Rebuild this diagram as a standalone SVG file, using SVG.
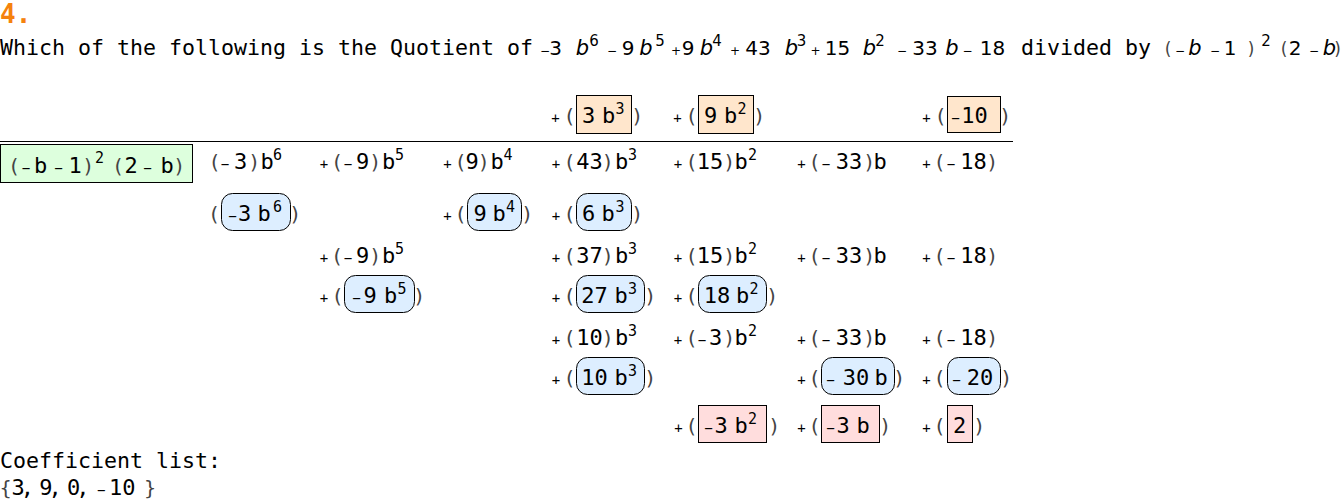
<svg xmlns="http://www.w3.org/2000/svg" width="1341" height="502" viewBox="0 0 1341 502">
<style>
.t{font-family:"DejaVu Sans Mono",monospace;font-size:21.6px;fill:#000}
.ttl{font-family:"DejaVu Sans Mono",monospace;font-size:26px;font-weight:bold;fill:#f5820d}
.n{font-family:"DejaVu Sans Mono",monospace;font-size:22px;text-anchor:middle;fill:#000}
.ns{font-family:"DejaVu Sans Mono",monospace;font-size:22px;fill:#000}
.o{font-family:"DejaVu Sans Mono",monospace;font-size:14px;text-anchor:middle;fill:#000}
.os{font-family:"DejaVu Sans Mono",monospace;font-size:14px}
.p{font-family:"DejaVu Sans",sans-serif;font-size:20px;text-anchor:middle;fill:#444}
.u{font-family:"DejaVu Sans Mono",monospace;font-size:15px;text-anchor:middle;fill:#000}
.h{font-family:"DejaVu Sans",sans-serif;font-size:20px;text-anchor:middle;fill:#000}
.hi{font-family:"DejaVu Sans",sans-serif;font-size:21px;font-style:italic;text-anchor:middle;fill:#000}
.hs{font-family:"DejaVu Sans",sans-serif;font-size:12px;text-anchor:middle;fill:#000}
.hu{font-family:"DejaVu Sans",sans-serif;font-size:15px;text-anchor:middle;fill:#000}
.hp{font-family:"DejaVu Sans",sans-serif;font-size:17px;text-anchor:middle;fill:#444}
.q{fill:#ffe6cc;stroke:#000;stroke-width:1}
.g{fill:#ddffdd;stroke:#000;stroke-width:1}
.bl{fill:#ddeeff;stroke:#000;stroke-width:1}
.pk{fill:#ffdddd;stroke:#000;stroke-width:1}
</style>
<rect width="1341" height="502" fill="#fff"/>

<g id="title">
<text class="ttl" x="0" y="23">4.</text>
<text class="t" x="0" y="55">Which of the following is the Quotient of</text>
<text class="hs" x="545" y="55">−</text><text class="h" x="555.5" y="55">3</text><text class="hi" x="582.5" y="55">b</text><text class="hu" x="594" y="46">6</text>
<text class="hs" x="612" y="55">−</text><text class="h" x="628" y="55">9</text><text class="hi" x="646" y="55">b</text><text class="hu" x="660" y="46">5</text>
<text class="hs" x="676" y="55">+</text><text class="h" x="688" y="55">9</text><text class="hi" x="706.5" y="55">b</text><text class="hu" x="717" y="46">4</text>
<text class="hs" x="735" y="55">+</text><text class="h" x="758" y="55">43</text><text class="hi" x="791.5" y="55">b</text><text class="hu" x="801.5" y="46">3</text>
<text class="hs" x="815.5" y="55">+</text><text class="h" x="837.5" y="55">15</text><text class="hi" x="869.5" y="55">b</text><text class="hu" x="880" y="46">2</text>
<text class="hs" x="902" y="55">−</text><text class="h" x="925" y="55">33</text><text class="hi" x="952" y="55">b</text>
<text class="hs" x="967.5" y="55">−</text><text class="h" x="992.5" y="55">18</text>
<text class="t" x="1021" y="55">divided by</text>
<text class="hp" x="1168" y="55">(</text><text class="hs" x="1180" y="55">−</text><text class="hi" x="1195" y="55">b</text><text class="hs" x="1215" y="55">−</text><text class="h" x="1230" y="55">1</text><text class="hp" x="1251" y="55">)</text><text class="hu" x="1266" y="46">2</text>
<text class="hp" x="1284" y="55">(</text><text class="h" x="1295" y="55">2</text><text class="hs" x="1314" y="55">−</text><text class="hi" x="1329.5" y="55">b</text><text class="hp" x="1337.5" y="55">)</text>
</g>

<g id="connectors">
<line x1="0" y1="141.5" x2="1013" y2="141.5" stroke="#000" stroke-width="1.2"/>
</g>

<!-- quotient row -->
<g id="q3">
<text class="o" x="555.5" y="123">+</text><text class="p" x="570" y="123">(</text>
<rect class="q" x="576.5" y="95.5" width="55" height="38"/>
<text class="n" x="588.5" y="123">3</text><text class="n" x="608.5" y="123">b</text><text class="u" x="620" y="114">3</text>
<text class="p" x="637" y="123">)</text>
</g>
<g id="q2">
<text class="o" x="677.5" y="123">+</text><text class="p" x="692" y="123">(</text>
<rect class="q" x="698.5" y="95.5" width="55" height="38"/>
<text class="n" x="710.5" y="123">9</text><text class="n" x="730.5" y="123">b</text><text class="u" x="742" y="114">2</text>
<text class="p" x="759" y="123">)</text>
</g>
<g id="q0">
<text class="o" x="926.5" y="123">+</text><text class="p" x="941" y="123">(</text>
<rect class="q" x="947.5" y="96.5" width="53" height="36"/>
<text class="o" x="955.5" y="123">−</text><text class="n" x="974.5" y="123">10</text>
<text class="p" x="1005" y="123">)</text>
</g>

<!-- divisor -->
<g id="divisor">
<rect class="g" x="0.5" y="144.5" width="192" height="38"/>
<text class="p" x="14.5" y="173">(</text><text class="o" x="26" y="173">−</text><text class="n" x="40.5" y="173">b</text><text class="o" x="58.5" y="173">−</text><text class="n" x="75" y="173">1</text><text class="p" x="88" y="173">)</text><text class="u" x="99.5" y="163">2</text>
<text class="p" x="118.5" y="173">(</text><text class="n" x="131" y="173">2</text><text class="o" x="147.5" y="173">−</text><text class="n" x="167" y="173">b</text><text class="p" x="179" y="173">)</text>
</g>

<!-- dividend row -->
<g id="r1">
<text class="p" x="215" y="169">(</text><text class="o" x="225" y="169">−</text><text class="n" x="240.5" y="169">3</text><text class="p" x="254" y="169">)</text><text class="n" x="267" y="169">b</text><text class="u" x="277.5" y="160">6</text>
<text class="o" x="324" y="169">+</text><text class="p" x="337.5" y="169">(</text><text class="o" x="348" y="169">−</text><text class="n" x="362.5" y="169">9</text><text class="p" x="375" y="169">)</text><text class="n" x="388.5" y="169">b</text><text class="u" x="399.5" y="160">5</text>
<text class="o" x="447.5" y="169">+</text><text class="p" x="461" y="169">(</text><text class="n" x="472" y="169">9</text><text class="p" x="483.5" y="169">)</text><text class="n" x="497" y="169">b</text><text class="u" x="508" y="160">4</text>
<text class="o" x="556" y="169">+</text><text class="p" x="570" y="169">(</text><text class="n" x="589.5" y="169">43</text><text class="p" x="607.5" y="169">)</text><text class="n" x="621.5" y="169">b</text><text class="u" x="632.5" y="160">3</text>
<text class="o" x="678" y="169">+</text><text class="p" x="692" y="169">(</text><text class="n" x="710" y="169">15</text><text class="p" x="729" y="169">)</text><text class="n" x="741" y="169">b</text><text class="u" x="752.5" y="160">2</text>
<text class="o" x="801.5" y="169">+</text><text class="p" x="815" y="169">(</text><text class="o" x="826" y="169">−</text><text class="n" x="849" y="169">33</text><text class="p" x="869" y="169">)</text><text class="n" x="880" y="169">b</text>
<text class="o" x="926.5" y="169">+</text><text class="p" x="940" y="169">(</text><text class="o" x="951" y="169">−</text><text class="n" x="973.5" y="169">18</text><text class="p" x="992" y="169">)</text>
</g>

<!-- row 2 -->
<g id="s1">
<text class="p" x="214.5" y="221">(</text>
<rect class="bl" x="221.5" y="193.5" width="69" height="37" rx="11"/>
<text class="o" x="232.5" y="221">−</text><text class="n" x="244.5" y="221">3</text><text class="n" x="264" y="221">b</text><text class="u" x="277.5" y="212">6</text>
<text class="p" x="295" y="221">)</text>
</g>
<g id="s2">
<text class="o" x="447.5" y="221">+</text><text class="p" x="461" y="221">(</text>
<rect class="bl" x="467.5" y="193.5" width="54" height="37" rx="11"/>
<text class="n" x="480" y="221">9</text><text class="n" x="499" y="221">b</text><text class="u" x="510.5" y="212">4</text>
<text class="p" x="527" y="221">)</text>
</g>
<g id="s3">
<text class="o" x="556" y="221">+</text><text class="p" x="570" y="221">(</text>
<rect class="bl" x="576.5" y="193.5" width="55" height="37" rx="11"/>
<text class="n" x="588.5" y="221">6</text><text class="n" x="608" y="221">b</text><text class="u" x="620" y="212">3</text>
<text class="p" x="637" y="221">)</text>
</g>

<!-- row 3 -->
<g id="r3">
<text class="o" x="324" y="263">+</text><text class="p" x="337.5" y="263">(</text><text class="o" x="348" y="263">−</text><text class="n" x="362.5" y="263">9</text><text class="p" x="375" y="263">)</text><text class="n" x="388.5" y="263">b</text><text class="u" x="399.5" y="254">5</text>
<text class="o" x="556" y="263">+</text><text class="p" x="570" y="263">(</text><text class="n" x="589.5" y="263">37</text><text class="p" x="607.5" y="263">)</text><text class="n" x="621.5" y="263">b</text><text class="u" x="632.5" y="254">3</text>
<text class="o" x="678" y="263">+</text><text class="p" x="692" y="263">(</text><text class="n" x="710" y="263">15</text><text class="p" x="729" y="263">)</text><text class="n" x="741" y="263">b</text><text class="u" x="752.5" y="254">2</text>
<text class="o" x="801.5" y="263">+</text><text class="p" x="815" y="263">(</text><text class="o" x="826" y="263">−</text><text class="n" x="849" y="263">33</text><text class="p" x="869" y="263">)</text><text class="n" x="880" y="263">b</text>
<text class="o" x="926.5" y="263">+</text><text class="p" x="940" y="263">(</text><text class="o" x="951" y="263">−</text><text class="n" x="973.5" y="263">18</text><text class="p" x="992" y="263">)</text>
</g>

<!-- row 4 -->
<g id="s4">
<text class="o" x="324" y="303">+</text><text class="p" x="338" y="303">(</text>
<rect class="bl" x="344.5" y="275.5" width="70" height="37" rx="11"/>
<text class="o" x="356.5" y="303">−</text><text class="n" x="370" y="303">9</text><text class="n" x="390.5" y="303">b</text><text class="u" x="402" y="294">5</text>
<text class="p" x="419" y="303">)</text>
</g>
<g id="s5">
<text class="o" x="556" y="303">+</text><text class="p" x="570" y="303">(</text>
<rect class="bl" x="576.5" y="275.5" width="68" height="37" rx="11"/>
<text class="n" x="594.5" y="303">27</text><text class="n" x="621" y="303">b</text><text class="u" x="632.5" y="294">3</text>
<text class="p" x="650" y="303">)</text>
</g>
<g id="s6">
<text class="o" x="678" y="303">+</text><text class="p" x="692" y="303">(</text>
<rect class="bl" x="698.5" y="275.5" width="68" height="37" rx="11"/>
<text class="n" x="717" y="303">18</text><text class="n" x="742.5" y="303">b</text><text class="u" x="754" y="294">2</text>
<text class="p" x="772" y="303">)</text>
</g>

<!-- row 5 -->
<g id="r5">
<text class="o" x="556" y="345">+</text><text class="p" x="570" y="345">(</text><text class="n" x="589.5" y="345">10</text><text class="p" x="607.5" y="345">)</text><text class="n" x="621.5" y="345">b</text><text class="u" x="632.5" y="336">3</text>
<text class="o" x="678" y="345">+</text><text class="p" x="692" y="345">(</text><text class="o" x="702" y="345">−</text><text class="n" x="715.5" y="345">3</text><text class="p" x="729" y="345">)</text><text class="n" x="741" y="345">b</text><text class="u" x="752.5" y="336">2</text>
<text class="o" x="801.5" y="345">+</text><text class="p" x="815" y="345">(</text><text class="o" x="826" y="345">−</text><text class="n" x="849" y="345">33</text><text class="p" x="869" y="345">)</text><text class="n" x="880" y="345">b</text>
<text class="o" x="926.5" y="345">+</text><text class="p" x="940" y="345">(</text><text class="o" x="951" y="345">−</text><text class="n" x="973.5" y="345">18</text><text class="p" x="992" y="345">)</text>
</g>

<!-- row 6 -->
<g id="s7">
<text class="o" x="556" y="385">+</text><text class="p" x="570" y="385">(</text>
<rect class="bl" x="576.5" y="357.5" width="68" height="37" rx="11"/>
<text class="n" x="594.5" y="385">10</text><text class="n" x="621" y="385">b</text><text class="u" x="632.5" y="376">3</text>
<text class="p" x="650" y="385">)</text>
</g>
<g id="s8">
<text class="o" x="801.5" y="385">+</text><text class="p" x="815" y="385">(</text>
<rect class="bl" x="821.5" y="357.5" width="73" height="37" rx="11"/>
<text class="o" x="830.5" y="385">−</text><text class="n" x="856" y="385">30</text><text class="n" x="881" y="385">b</text>
<text class="p" x="899" y="385">)</text>
</g>
<g id="s9">
<text class="o" x="926.5" y="385">+</text><text class="p" x="940" y="385">(</text>
<rect class="bl" x="947.5" y="357.5" width="53" height="37" rx="11"/>
<text class="o" x="956.5" y="385">−</text><text class="n" x="980" y="385">20</text>
<text class="p" x="1006" y="385">)</text>
</g>

<!-- remainder row -->
<g id="rem2">
<text class="o" x="678.5" y="433">+</text><text class="p" x="692" y="433">(</text>
<rect class="pk" x="698.5" y="405.5" width="68" height="37"/>
<text class="o" x="708.5" y="433">−</text><text class="n" x="721" y="433">3</text><text class="n" x="741" y="433">b</text><text class="u" x="752.5" y="424">2</text>
<text class="p" x="774" y="433">)</text>
</g>
<g id="rem1">
<text class="o" x="801.5" y="433">+</text><text class="p" x="815" y="433">(</text>
<rect class="pk" x="821.5" y="405.5" width="58" height="37"/>
<text class="o" x="830.5" y="433">−</text><text class="n" x="843" y="433">3</text><text class="n" x="863" y="433">b</text>
<text class="p" x="885" y="433">)</text>
</g>
<g id="rem0">
<text class="o" x="926.5" y="433">+</text><text class="p" x="940" y="433">(</text>
<rect class="pk" x="947.5" y="405.5" width="25" height="37"/>
<text class="n" x="959.5" y="433">2</text>
<text class="p" x="979" y="433">)</text>
</g>

<g id="coefficients">
<text class="t" x="0" y="468">Coefficient list:</text>
<text class="p" x="5.5" y="495">{</text>
<text class="ns" x="11.6" y="495" textLength="78" lengthAdjust="spacing" xml:space="preserve">3, 9, 0,</text>
<text class="ns" x="97" y="495"><tspan class="os">−</tspan><tspan x="109">10</tspan></text>
<text class="p" x="150" y="495">}</text>
</g>
</svg>
